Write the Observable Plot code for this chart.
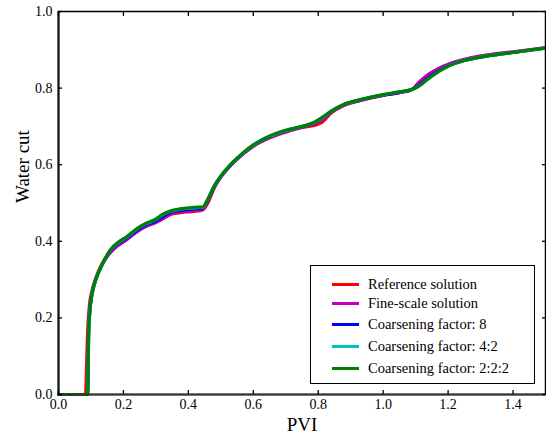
<!DOCTYPE html>
<html><head><meta charset="utf-8">
<script src="https://cdn.jsdelivr.net/npm/d3@7"></script>
<script src="https://cdn.jsdelivr.net/npm/@observablehq/plot@0.6"></script>
<style>
body{margin:0;background:#fff;}
#wrap{position:relative;width:546px;height:443px;font-family:"Liberation Serif","DejaVu Serif",serif;}
#wrap svg text{font-family:"Liberation Serif","DejaVu Serif",serif;}
#legend{position:absolute;left:310px;top:265px;width:225px;height:119px;border:1.5px solid #000;background:#fff;box-sizing:border-box;}
.row{position:absolute;left:0;height:20px;display:flex;align-items:center;font-size:14.5px;color:#000;}
.sw{width:27px;height:3px;margin-left:21px;margin-right:9px;}
</style></head>
<body><div id="wrap"></div>
<script>
const pvi = [0, 0.083, 0.088, 0.090, 0.093, 0.097, 0.103, 0.115, 0.135, 0.16, 0.185, 0.21, 0.24, 0.27, 0.30, 0.32, 0.34, 0.37, 0.40, 0.43, 0.445, 0.46, 0.48, 0.50, 0.53, 0.56, 0.60, 0.65, 0.70, 0.75, 0.79, 0.81, 0.84, 0.88, 0.93, 1.00, 1.05, 1.09, 1.11, 1.14, 1.17, 1.20, 1.25, 1.30, 1.40, 1.50];
const refSol   = [0, 0, 0.12, 0.17, 0.21, 0.245, 0.27, 0.305, 0.343, 0.373, 0.392, 0.405, 0.425, 0.44, 0.45, 0.458, 0.468, 0.474, 0.477, 0.479, 0.482, 0.50, 0.54, 0.568, 0.598, 0.622, 0.648, 0.67, 0.685, 0.697, 0.703, 0.71, 0.735, 0.755, 0.768, 0.781, 0.788, 0.797, 0.815, 0.836, 0.850, 0.861, 0.874, 0.883, 0.894, 0.905];
const fineSol  = [0, 0, 0, 0.02, 0.19, 0.235, 0.265, 0.302, 0.34, 0.371, 0.39, 0.404, 0.424, 0.439, 0.449, 0.459, 0.47, 0.476, 0.479, 0.481, 0.484, 0.505, 0.542, 0.568, 0.598, 0.622, 0.649, 0.671, 0.686, 0.698, 0.708, 0.716, 0.738, 0.756, 0.768, 0.781, 0.788, 0.797, 0.814, 0.836, 0.851, 0.862, 0.875, 0.884, 0.895, 0.905];
const cf8      = [0, 0, 0, 0.01, 0.17, 0.225, 0.262, 0.30, 0.34, 0.375, 0.395, 0.408, 0.428, 0.443, 0.453, 0.463, 0.474, 0.48, 0.483, 0.485, 0.487, 0.508, 0.544, 0.569, 0.599, 0.623, 0.65, 0.673, 0.688, 0.699, 0.71, 0.72, 0.739, 0.757, 0.769, 0.782, 0.789, 0.797, 0.807, 0.828, 0.845, 0.858, 0.872, 0.881, 0.893, 0.904];
const cf42     = [0, 0, 0, 0, 0.16, 0.22, 0.26, 0.30, 0.34, 0.377, 0.397, 0.411, 0.431, 0.446, 0.457, 0.469, 0.477, 0.483, 0.486, 0.488, 0.489, 0.51, 0.545, 0.57, 0.60, 0.624, 0.651, 0.674, 0.689, 0.70, 0.711, 0.721, 0.74, 0.758, 0.77, 0.783, 0.79, 0.797, 0.805, 0.825, 0.843, 0.857, 0.872, 0.881, 0.893, 0.904];
const cf222    = [0, 0, 0, 0, 0.16, 0.22, 0.26, 0.30, 0.34, 0.378, 0.398, 0.412, 0.432, 0.447, 0.458, 0.47, 0.478, 0.484, 0.487, 0.489, 0.49, 0.51, 0.545, 0.57, 0.60, 0.625, 0.652, 0.675, 0.69, 0.70, 0.712, 0.722, 0.74, 0.758, 0.77, 0.783, 0.79, 0.797, 0.805, 0.825, 0.843, 0.857, 0.872, 0.881, 0.893, 0.905];
const seriesNames = ["Reference solution", "Fine-scale solution", "Coarsening factor: 8", "Coarsening factor: 4:2", "Coarsening factor: 2:2:2"];
const seriesColors = ["#ff0000", "#c000c0", "#0000ff", "#00c0c0", "#008000"];
const seriesValues = [refSol, fineSol, cf8, cf42, cf222];
const xTicks = [0, 0.2, 0.4, 0.6, 0.8, 1.0, 1.2, 1.4];
const yTicks = [0, 0.2, 0.4, 0.6, 0.8, 1.0];

const rows = [];
seriesValues.forEach((vals, s) => vals.forEach((v, i) => rows.push({s: seriesNames[s], x: pvi[i], y: v})));

const serif = "'Liberation Serif', 'DejaVu Serif', serif";
const fmt = d3.format(".1f");
const chart = Plot.plot({
  width: 546, height: 443,
  marginLeft: 58, marginRight: 1, marginTop: 11, marginBottom: 49,
  style: {fontFamily: serif, fontSize: "14px", color: "#000", background: "#fff"},
  x: {domain: [0, 1.5]},
  y: {domain: [0, 1]},
  color: {domain: seriesNames, range: seriesColors},
  marks: [
    Plot.line(rows, {x: "x", y: "y", z: "s", stroke: "s", strokeWidth: 3.2, curve: "monotone-x"}),
    Plot.frame({stroke: "#000", strokeWidth: 1.5}),
    Plot.ruleY([0], {stroke: "#333", strokeWidth: 2}),
    Plot.ruleX([0], {stroke: "#111", strokeWidth: 2}),
    Plot.axisX(xTicks, {anchor: "bottom", tickSize: -4, tickPadding: 9, tickFormat: fmt, label: null, stroke: "#000", strokeWidth: 1.3, fontSize: 14, fontFamily: serif}),
    Plot.axisX(xTicks, {anchor: "top", tickSize: -4, tickFormat: () => "", label: null, strokeWidth: 1.3}),
    Plot.axisY(yTicks, {anchor: "left", tickSize: -4, tickPadding: 10, tickFormat: fmt, label: null, strokeWidth: 1.3, fontSize: 14, fontFamily: serif}),
    Plot.axisY(yTicks, {anchor: "right", tickSize: -4, tickFormat: () => "", label: null, strokeWidth: 1.3}),
    Plot.text(["PVI"], {frameAnchor: "bottom", dy: 36, fontSize: 19, fontFamily: serif}),
    Plot.text(["Water cut"], {frameAnchor: "left", dx: -36, rotate: -90, fontSize: 19, fontFamily: serif})
  ]
});
const wrap = document.getElementById("wrap");
wrap.appendChild(chart);
const leg = document.createElement("div");
leg.id = "legend";
const rowTops = [8, 27, 48, 70, 92];
seriesNames.forEach((n, i) => {
  const r = document.createElement("div");
  r.className = "row";
  r.style.top = rowTops[i] + "px";
  const sw = document.createElement("span");
  sw.className = "sw"; sw.style.background = seriesColors[i];
  const t = document.createElement("span"); t.textContent = n;
  r.appendChild(sw); r.appendChild(t);
  leg.appendChild(r);
});
wrap.appendChild(leg);
</script></body></html>
